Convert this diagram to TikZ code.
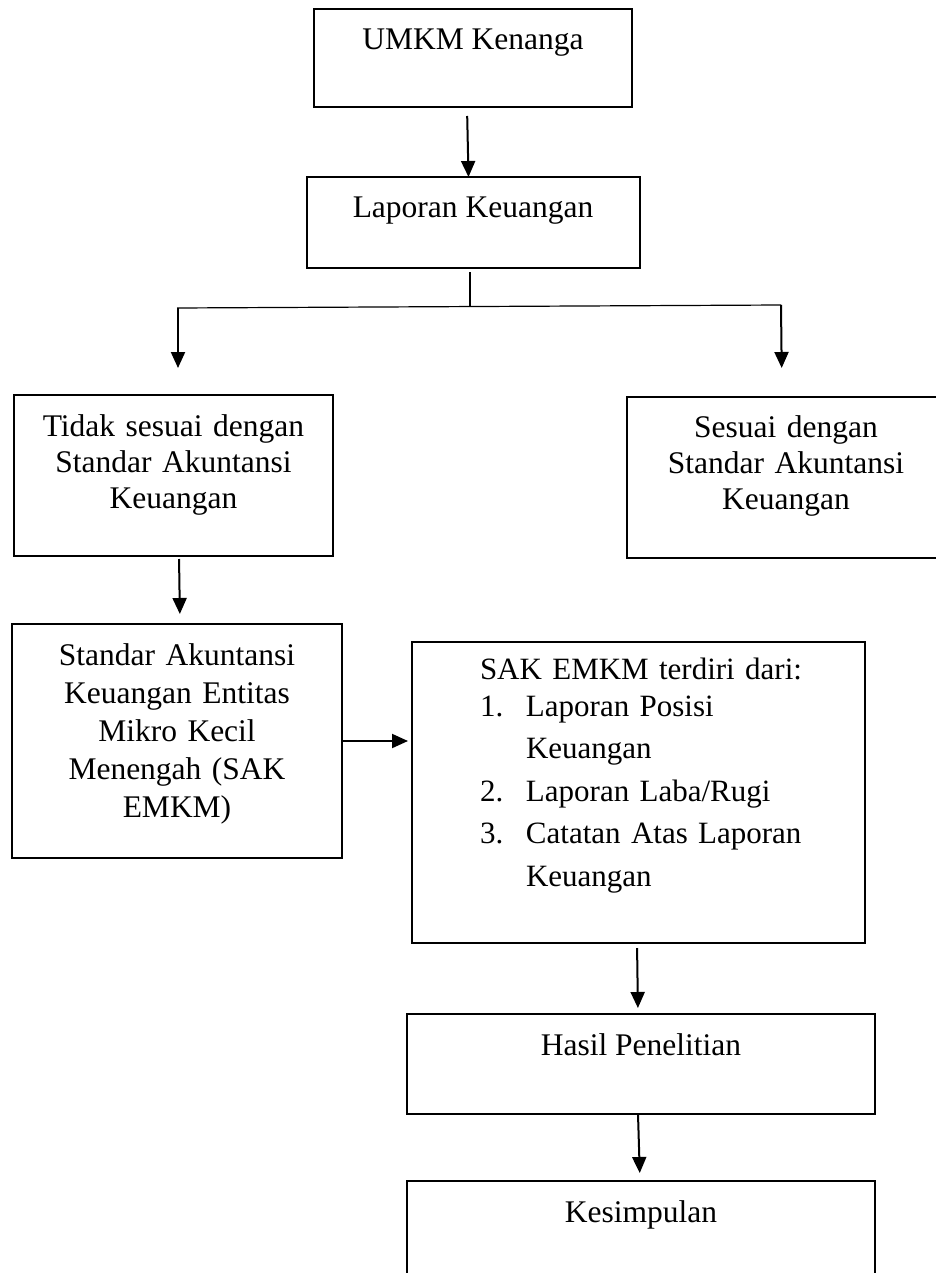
\documentclass[tikz,border=0pt]{standalone}
\usepackage{fontspec}
\setmainfont{Liberation Serif}
\usetikzlibrary{arrows.meta,calc}
\begin{document}
\begin{tikzpicture}[x=1pt,y=-1pt,
  box/.style={draw,line width=2.4pt,inner sep=0pt,outer sep=0pt,anchor=north west},
  txt/.style={inner sep=0pt,outer sep=0pt,font=\fontsize{31.5}{36}\selectfont},
  mtxt/.style={txt,text width=330pt,align=center,anchor=base},
  arr/.style={line width=2pt,-{Triangle[length=16pt,width=14pt]}},
  thin/.style={line width=1.2pt}]
\useasboundingbox (0,0) rectangle (936,1273);
\clip (0,0) rectangle (936,1273);
% boxes
\node[box,minimum width=318pt,minimum height=98pt] (b1) at (314,9) {};
\node[box,minimum width=333pt,minimum height=91pt] (b2) at (307,177) {};
\node[box,minimum width=319pt,minimum height=161pt] (b3) at (14,395) {};
\node[box,minimum width=318pt,minimum height=161pt] (b4) at (627,397) {};
\node[box,minimum width=330pt,minimum height=234pt] (b5) at (12,624) {};
\node[box,minimum width=453pt,minimum height=301pt] (b6) at (412,642) {};
\node[box,minimum width=468pt,minimum height=100pt] (b7) at (407,1014) {};
\node[box,minimum width=468pt,minimum height=110pt] (b8) at (407,1181) {};
% texts
\node[txt,anchor=base] (t1) at (473,50) {UMKM Kenanga};
\node[txt,anchor=base] (t2) at (473,218) {Laporan Keuangan};
\node[mtxt] (t3) at (173.5,436) {Tidak sesuai dengan\\Standar Akuntansi\\Keuangan};
\node[mtxt] (t4) at (786,437) {Sesuai dengan\\Standar Akuntansi\\Keuangan};
\node[mtxt,font=\fontsize{31.5}{38}\selectfont] (t5) at (177,665) {Standar Akuntansi\\Keuangan Entitas\\Mikro Kecil\\Menengah (SAK\\EMKM)};
\node[txt,anchor=base west,text width=380pt,align=left,font=\fontsize{31}{42.5}\selectfont] (t6) at (480,679)
  {SAK EMKM terdiri dari:\\[-5.5pt]\makebox[46pt][l]{1.}Laporan Posisi\\\hspace*{46pt}Keuangan\\\makebox[46pt][l]{2.}Laporan Laba/Rugi\\\makebox[46pt][l]{3.}Catatan Atas Laporan\\\hspace*{46pt}Keuangan};
\node[txt,anchor=base] (t7) at (641,1055) {Hasil Penelitian};
\node[txt,anchor=base] (t8) at (641,1222) {Kesimpulan};
% connectors
\coordinate (J) at (470,307);
\coordinate (L) at (177,308);
\coordinate (R) at (781,305);
\draw[arr,shorten <=9pt] ([xshift=-6pt]b1.south) -- ([xshift=-5pt]b2.north);
\draw[thin,shorten <=4pt] ([xshift=-3.5pt]b2.south) -- (J);
\draw[thin] (L) -- (R);
\draw[arr,shorten >=27pt] ([xshift=1pt]L) -- ([xshift=1pt]L |- b3.north);
\draw[arr,shorten >=29pt] (R) -- ([xshift=1pt]R |- b4.north);
\draw[arr,shorten <=3pt,shorten >=10pt] ([xshift=5.5pt]b3.south) -- ([xshift=3pt]b5.north);
\draw[arr,shorten >=4pt] (b5.east) -- (b6.west |- b5.east);
\draw[arr,shorten <=5pt,shorten >=6pt] ([xshift=-1.5pt]b6.south) -- ([xshift=-3pt]b7.north);
\draw[arr,shorten >=8pt] ([xshift=-3pt]b7.south) -- ([xshift=-1pt]b8.north);
\end{tikzpicture}
\end{document}
